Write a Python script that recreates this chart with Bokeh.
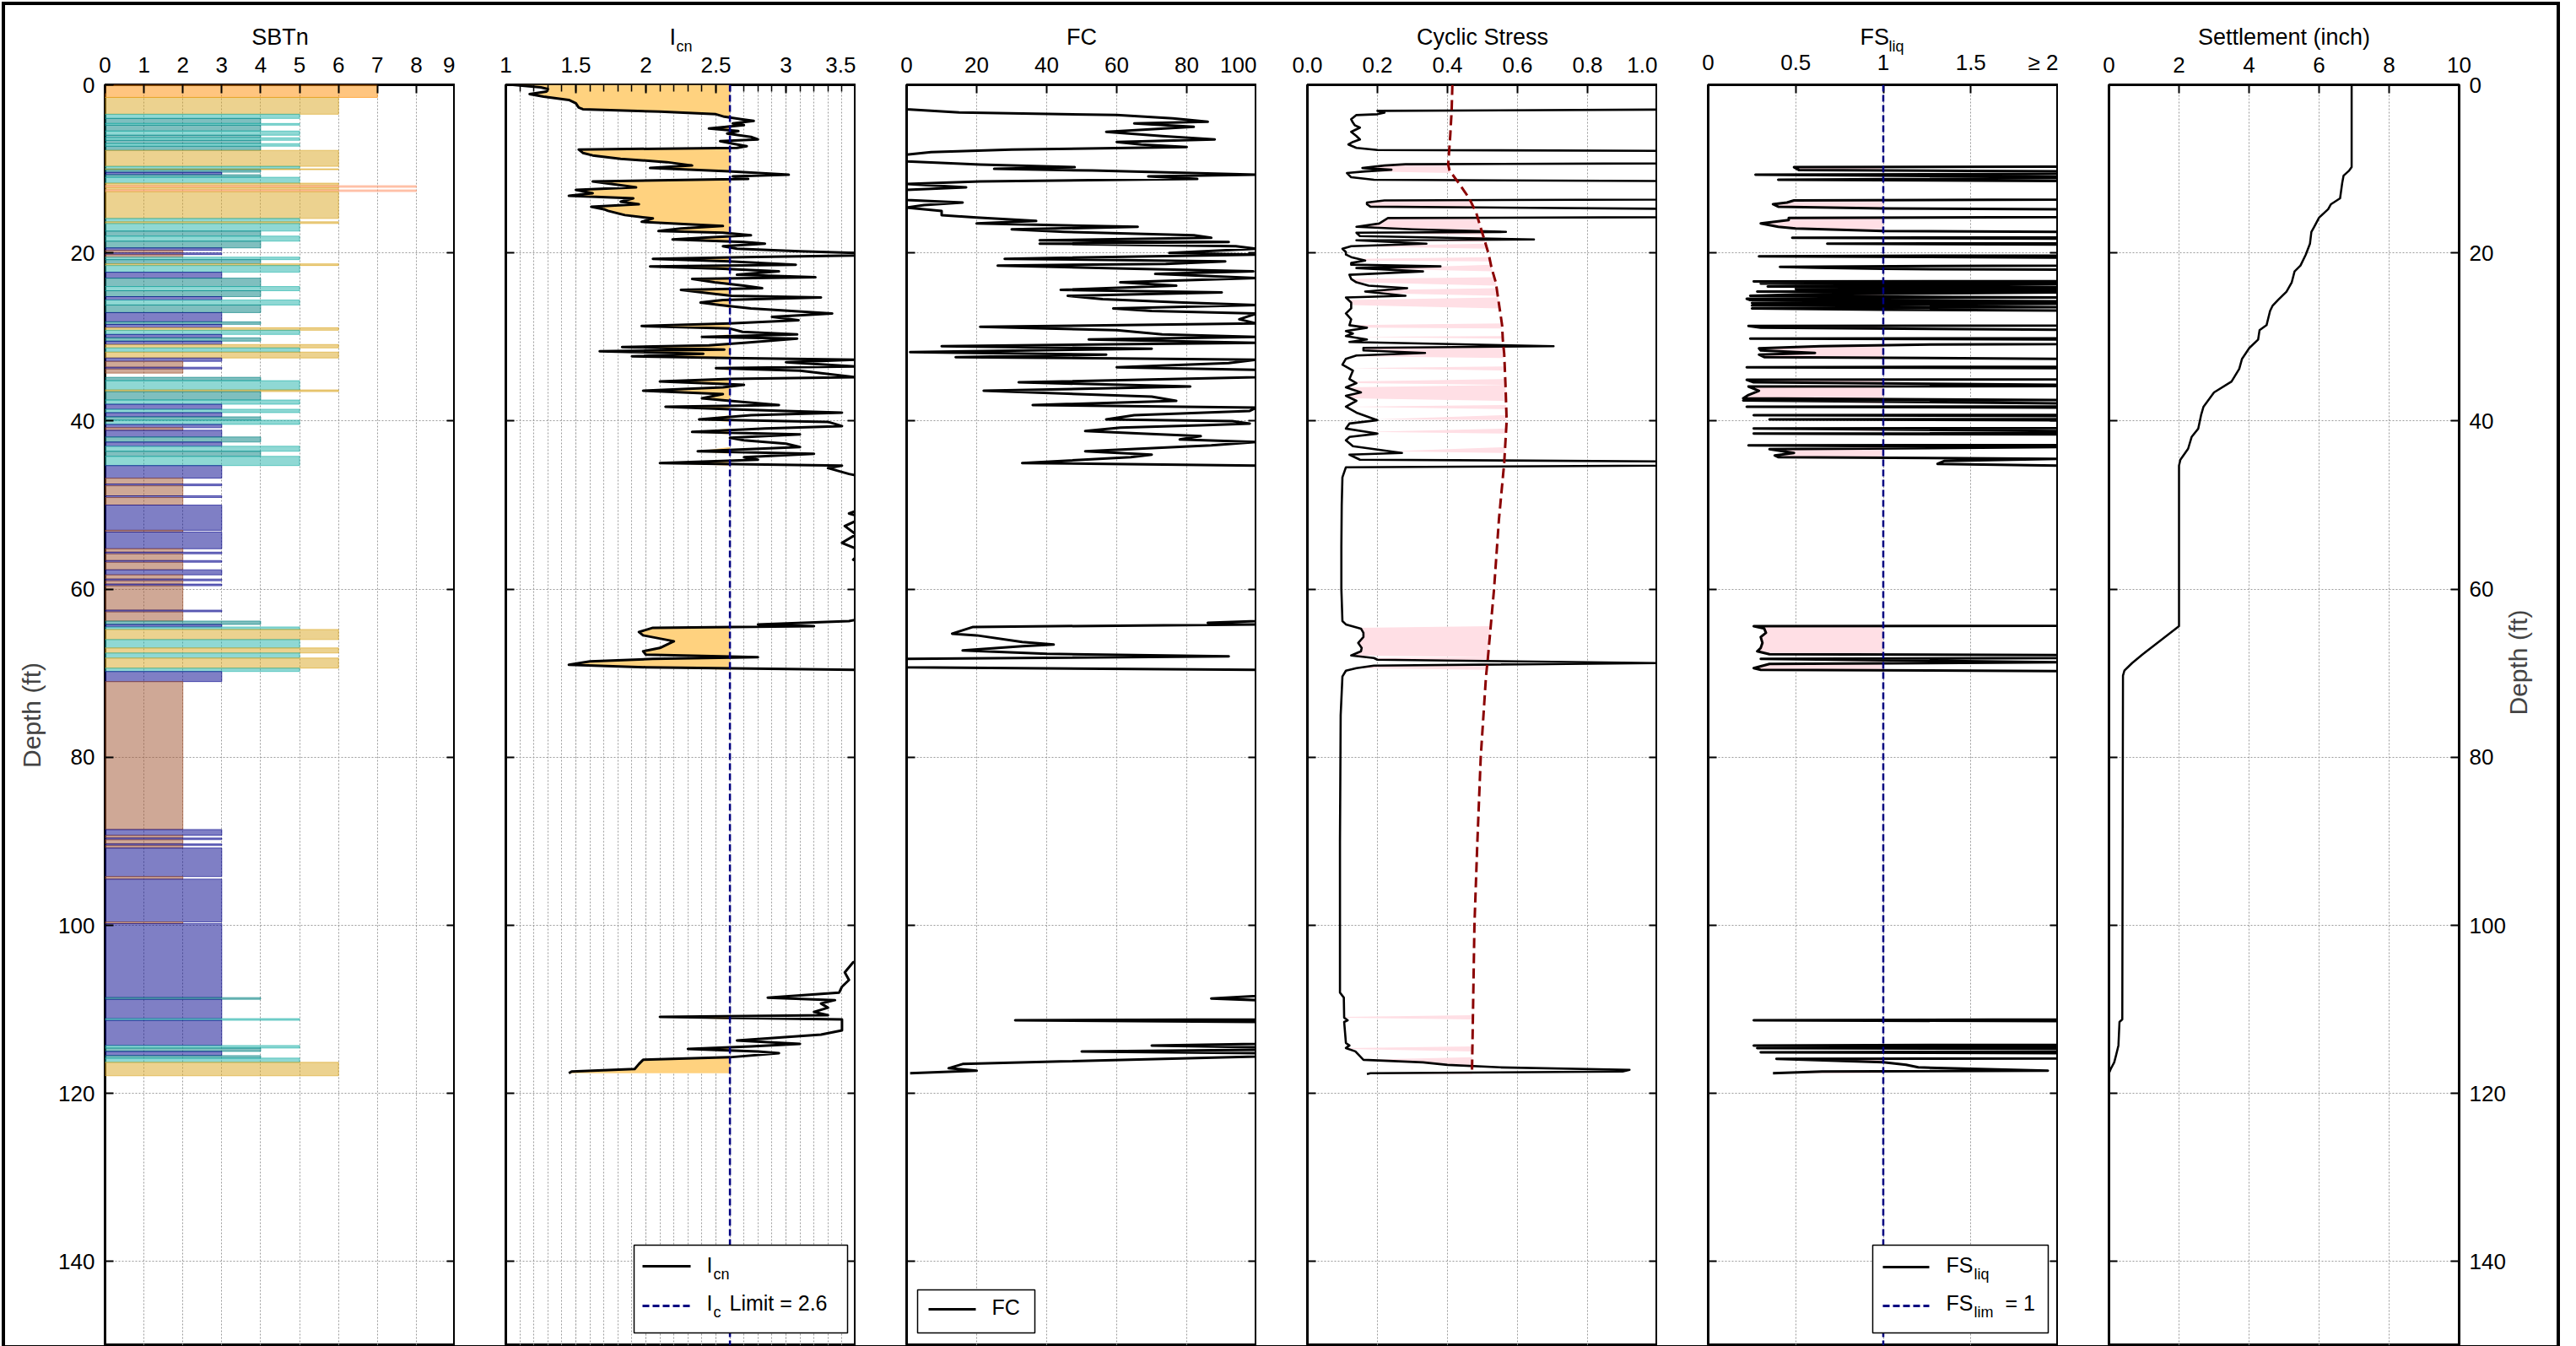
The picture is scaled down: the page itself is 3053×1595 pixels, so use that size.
import math
import numpy as np
from bokeh.plotting import figure
from bokeh.models import (Range1d, FixedTicker, SingleIntervalTicker, LinearAxis,
                          Label, BoxAnnotation, Arrow, Span, Row, Column)
from bokeh.embed import file_html
from bokeh.resources import INLINE

FONT = "Liberation Sans"

# ---------------- data ----------------
depth_ticks = [0, 20, 40, 60, 80, 100, 120, 140]
depth_max = 150
ic_limit = 2.6
fs_limit = 1.0
gwt_depth = 9.5

# SBTn layers: (top ft, bottom ft, zone)
sbt_layers = [
    (0.0, 1.5, 7), (1.5, 3.5, 6), (3.5, 4.0, 5), (4.0, 4.6, 4), (4.6, 4.8, 5), (4.8, 5.5, 4),
    (5.5, 6.0, 5), (6.0, 6.3, 4), (6.3, 6.6, 5), (6.6, 7.0, 4), (7.0, 7.3, 5), (7.3, 7.8, 4),
    (7.8, 9.7, 6), (9.7, 10.0, 5), (10.0, 10.1, 6), (10.1, 10.4, 4), (10.4, 10.7, 3),
    (10.7, 11.0, 4), (11.0, 11.7, 5), (11.7, 12.0, 6), (12.0, 12.2, 8), (12.2, 12.5, 6),
    (12.5, 12.7, 8), (12.7, 15.9, 6), (15.9, 16.3, 5), (16.3, 16.5, 6), (16.5, 17.4, 5),
    (17.4, 18.0, 4), (18.0, 18.6, 5), (18.6, 19.4, 4), (19.4, 19.7, 3), (19.7, 20.0, 2),
    (20.0, 20.2, 3), (20.2, 20.5, 2), (20.5, 20.8, 5), (20.8, 21.3, 4), (21.3, 21.5, 6),
    (21.5, 22.3, 5), (22.3, 23.0, 3), (23.0, 24.0, 4), (24.0, 24.5, 5), (24.5, 25.2, 4),
    (25.2, 25.6, 3), (25.6, 26.2, 5), (26.2, 27.1, 4), (27.1, 28.2, 3), (28.2, 28.5, 4),
    (28.5, 28.9, 3), (28.9, 29.2, 6), (29.2, 29.7, 5), (29.7, 30.1, 3), (30.1, 30.5, 4),
    (30.5, 30.9, 3), (30.9, 31.3, 6), (31.3, 31.8, 5), (31.8, 32.5, 6), (32.5, 32.9, 3),
    (32.9, 33.6, 2), (33.6, 33.8, 3), (33.8, 34.3, 2), (34.8, 35.2, 4), (35.2, 36.3, 5),
    (36.3, 36.5, 6), (36.5, 37.5, 4), (37.5, 38.0, 5), (38.0, 38.6, 3), (38.6, 39.0, 5),
    (39.0, 39.5, 3), (39.5, 39.9, 4), (39.9, 40.4, 5), (40.4, 40.8, 3), (40.8, 41.1, 2),
    (41.1, 41.9, 3), (41.9, 42.5, 4), (42.5, 43.0, 3), (43.0, 43.6, 5), (43.6, 44.2, 4),
    (44.2, 45.3, 5), (45.3, 46.8, 3), (46.8, 47.5, 2), (47.5, 47.7, 3), (47.7, 48.9, 2),
    (48.9, 49.1, 3), (49.1, 50.0, 2), (50.0, 53.0, 3), (53.0, 53.2, 2), (53.2, 55.2, 3),
    (55.2, 55.6, 2), (55.6, 55.8, 3), (55.8, 56.6, 2), (56.6, 56.8, 3), (56.8, 57.7, 2),
    (57.7, 58.3, 3), (58.3, 58.8, 2), (58.8, 59.0, 3), (59.0, 59.4, 2), (59.4, 59.6, 3),
    (59.6, 62.5, 2), (62.5, 62.7, 3), (62.7, 63.8, 2), (63.8, 64.2, 4), (64.2, 64.5, 3),
    (64.5, 64.8, 5), (64.8, 66.0, 6), (66.0, 67.0, 5), (67.0, 67.6, 6), (67.6, 68.2, 5),
    (68.2, 69.4, 6), (69.4, 69.8, 5), (69.8, 71.0, 3), (71.0, 88.6, 2), (88.6, 89.3, 3),
    (89.3, 89.6, 2), (89.6, 89.8, 3), (89.8, 90.3, 2), (90.3, 90.5, 3), (90.5, 90.8, 2),
    (90.8, 94.2, 3), (94.2, 94.5, 2), (94.5, 99.6, 3), (99.6, 99.8, 2), (99.8, 108.6, 3),
    (108.6, 108.8, 4), (108.8, 111.1, 3), (111.1, 111.3, 5), (111.3, 114.3, 3),
    (114.3, 114.6, 5), (114.6, 115.0, 4), (115.0, 115.5, 3), (115.5, 115.8, 4),
    (115.8, 116.3, 5), (116.3, 117.9, 6),
]

# Icn profile: (depth ft, Icn)
icn_profile = [
    (0.0, 1.05), (0.3, 1.25), (0.5, 1.30), (0.8, 1.29), (1.1, 1.17), (1.4, 1.27), (1.8, 1.45),
    (2.2, 1.50), (2.7, 1.52), (2.9, 1.55), (3.2, 2.10), (3.5, 2.50), (3.8, 2.56), (4.1, 2.68),
    (4.3, 2.77), (4.6, 2.62), (4.8, 2.70), (5.2, 2.45), (5.5, 2.66), (5.8, 2.58), (6.2, 2.75),
    (6.5, 2.80), (6.7, 2.53), (7.0, 2.62), (7.3, 2.72), (7.5, 2.65), (7.7, 1.52), (8.1, 1.55),
    (8.4, 1.62), (8.8, 1.82), (9.2, 2.15), (9.6, 2.33), (9.9, 2.03), (10.3, 2.59), (10.7, 3.02),
    (10.9, 2.62), (11.2, 2.73), (11.5, 1.62), (11.9, 1.80), (12.2, 1.93), (12.5, 1.50),
    (12.9, 1.62), (13.2, 1.45), (13.5, 1.91), (13.9, 1.82), (14.2, 1.95), (14.5, 1.61),
    (14.8, 1.70), (15.0, 1.73), (15.5, 1.85), (15.9, 2.05), (16.3, 1.97), (16.6, 2.30),
    (16.8, 2.55), (17.1, 2.25), (17.4, 2.09), (17.6, 2.55), (17.9, 2.75), (18.2, 2.40),
    (18.4, 2.19), (18.7, 2.70), (18.9, 2.85), (19.2, 2.55), (19.5, 2.65), (19.8, 3.10),
    (20.0, 3.50), (20.3, 3.50), (20.5, 2.70), (20.7, 2.05), (21.0, 2.60), (21.4, 3.07),
    (21.6, 2.03), (21.9, 2.55), (22.2, 2.95), (22.6, 2.65), (22.9, 3.21), (23.1, 2.33),
    (23.5, 2.49), (23.9, 2.70), (24.2, 2.83), (24.4, 2.25), (24.8, 2.45), (25.1, 2.61),
    (25.3, 3.25), (25.6, 2.55), (25.9, 2.39), (26.2, 2.53), (26.6, 2.75), (27.2, 3.33),
    (27.6, 2.90), (28.0, 3.09), (28.4, 2.60), (28.7, 1.97), (29.0, 2.60), (29.4, 2.69),
    (29.7, 3.08), (30.0, 2.40), (30.2, 3.08), (30.7, 2.70), (31.0, 2.45), (31.2, 1.83),
    (31.5, 2.56), (31.7, 1.67), (32.0, 2.41), (32.3, 1.90), (32.5, 2.60), (32.7, 3.50),
    (33.0, 3.00), (33.5, 3.50), (33.7, 2.50), (34.0, 3.10), (34.8, 3.50), (35.0, 2.60),
    (35.3, 2.10), (35.7, 2.70), (36.0, 2.55), (36.4, 1.98), (36.8, 2.55), (37.3, 2.40),
    (37.6, 2.60), (38.1, 2.95), (38.3, 2.14), (38.6, 2.60), (39.0, 3.40), (39.3, 2.75),
    (39.8, 2.38), (40.1, 3.30), (40.6, 3.40), (40.9, 2.85), (41.3, 2.33), (41.6, 3.10),
    (42.0, 2.60), (42.3, 2.70), (42.7, 3.00), (43.1, 3.10), (43.6, 2.37), (43.9, 3.20),
    (44.3, 2.70), (44.6, 2.80), (45.0, 2.10), (45.3, 3.40), (45.6, 3.30), (46.3, 3.45),
    (46.8, 3.60), (50.0, 3.62), (51.0, 3.45), (51.5, 3.55), (52.5, 3.42), (53.5, 3.50),
    (54.5, 3.40), (55.5, 3.55), (56.5, 3.48), (57.5, 3.60), (59.0, 3.50), (60.0, 3.60),
    (63.5, 3.55), (63.8, 3.45), (64.2, 2.80), (64.4, 3.20), (64.6, 2.05), (65.1, 1.95),
    (65.5, 1.98), (66.2, 2.20), (66.6, 2.15), (67.0, 2.10), (67.4, 1.98), (67.8, 2.00),
    (68.1, 2.80), (68.3, 2.05), (68.6, 1.60), (69.0, 1.45), (69.3, 2.00), (69.6, 3.50),
    (70.0, 3.60), (104.0, 3.60), (104.4, 3.48), (105.6, 3.42), (106.5, 3.45), (107.3, 3.40),
    (108.0, 3.38), (108.6, 2.87), (108.9, 3.35), (109.3, 3.25), (109.8, 3.30), (110.3, 3.20),
    (110.7, 3.30), (110.9, 2.10), (111.2, 3.40), (112.5, 3.40), (113.0, 3.25), (113.7, 2.65),
    (114.1, 3.10), (114.4, 2.75), (114.7, 2.30), (115.0, 2.80), (115.2, 2.95), (115.7, 2.60),
    (116.0, 1.98), (116.5, 1.95), (117.1, 1.92), (117.4, 1.47), (117.6, 1.45),
]

# Fines content: (depth ft, FC %)
fc_profile = [
    (0.0, 0), (2.9, 0), (3.3, 15), (3.6, 60), (4.0, 76), (4.4, 86), (4.6, 65), (5.0, 82),
    (5.6, 57), (6.1, 73), (6.5, 88), (6.8, 60), (7.1, 67), (7.4, 80), (7.7, 30), (8.0, 7),
    (8.3, 0), (9.1, 0), (9.5, 21), (9.8, 48), (10.0, 25), (10.2, 53), (10.7, 100), (10.9, 69),
    (11.2, 83), (11.5, 21), (11.8, 0), (12.2, 17), (12.5, 0), (13.7, 0), (14.0, 16), (14.3, 5),
    (14.6, 0), (15.0, 10), (15.5, 10), (15.8, 20), (16.2, 37), (16.5, 20), (16.9, 66),
    (17.2, 30), (17.5, 45), (17.9, 82), (18.2, 87), (18.5, 38), (18.7, 92), (18.9, 38),
    (19.2, 94), (19.5, 100), (20.0, 75), (20.2, 100), (20.7, 28), (21.0, 91), (21.3, 74),
    (21.5, 26), (21.9, 65), (22.2, 99), (22.5, 71), (23.0, 100), (23.5, 61), (23.9, 77),
    (24.4, 44), (24.7, 90), (25.1, 46), (25.5, 56), (25.9, 79), (26.2, 100), (26.6, 59),
    (26.9, 70), (27.2, 100), (27.9, 95), (28.4, 100), (28.8, 21), (29.2, 60), (29.7, 73),
    (30.0, 100), (30.3, 52), (30.7, 100), (31.1, 10), (31.4, 70), (31.8, 1), (32.1, 57),
    (32.4, 14), (32.7, 100), (33.1, 92), (33.6, 60), (33.9, 100), (34.8, 100), (35.4, 32),
    (35.9, 81), (36.4, 22), (37.1, 70), (37.6, 77), (38.1, 36), (38.4, 100), (38.8, 98),
    (39.3, 65), (39.8, 57), (40.0, 93), (40.3, 98), (40.5, 84), (40.8, 61), (41.2, 51),
    (41.5, 67), (41.8, 84), (42.2, 78), (42.5, 100), (42.9, 87), (43.6, 51), (44.0, 70),
    (44.3, 64), (45.0, 33), (45.3, 100), (63.8, 100), (64.0, 86), (64.2, 100), (64.5, 19),
    (65.3, 13), (65.5, 20), (66.3, 33), (66.6, 42), (66.8, 33), (67.3, 16), (67.7, 40),
    (68.0, 92), (68.3, 0), (69.3, 0), (69.6, 100), (108.4, 100), (108.7, 87), (108.9, 100),
    (111.2, 100), (111.3, 31), (111.5, 100), (114.1, 100), (114.3, 70), (114.5, 100),
    (114.8, 100), (115.0, 50), (115.2, 100), (115.6, 100), (116.2, 44), (116.5, 16),
    (117.0, 12), (117.3, 20), (117.6, 1),
]

# Cyclic resistance ratio: (depth ft, CRR), capped at 1.0
crr_profile = [
    (2.95, 1.0), (3.1, 0.20), (3.3, 0.22), (3.5, 0.20), (3.6, 0.14), (4.1, 0.125), (4.5, 0.13),
    (4.8, 0.135), (5.1, 0.15), (5.6, 0.125), (6.1, 0.14), (6.5, 0.15), (6.8, 0.13),
    (7.1, 0.117), (7.5, 0.14), (7.75, 0.20), (7.85, 1.0), (9.35, 1.0), (9.45, 0.28),
    (9.6, 0.22), (9.9, 0.157), (10.1, 0.24), (10.3, 0.165), (10.5, 0.113), (11.0, 0.125),
    (11.3, 0.19), (11.45, 1.0), (13.65, 1.0), (13.75, 0.22), (14.0, 0.17), (14.2, 0.17),
    (14.5, 0.18), (14.75, 1.0), (15.75, 1.0), (15.85, 0.23), (16.5, 0.205), (16.9, 0.14),
    (17.2, 0.30), (17.5, 0.567), (17.6, 0.14), (18.0, 0.15), (18.4, 0.647), (18.5, 0.14),
    (18.9, 0.34), (19.2, 0.125), (19.5, 0.10), (19.9, 0.11), (20.2, 0.11), (20.5, 0.125),
    (20.9, 0.165), (21.2, 0.125), (21.4, 0.125), (21.6, 0.38), (21.8, 0.14), (22.2, 0.33),
    (22.6, 0.12), (23.1, 0.125), (23.5, 0.14), (23.9, 0.175), (24.2, 0.285), (24.6, 0.165),
    (25.1, 0.28), (25.3, 0.11), (25.9, 0.125), (26.6, 0.125), (27.2, 0.11), (27.9, 0.125),
    (28.6, 0.12), (28.9, 0.17), (29.3, 0.11), (29.6, 0.13), (29.9, 0.11), (30.3, 0.17),
    (30.6, 0.12), (31.1, 0.703), (31.3, 0.16), (31.6, 0.16), (31.9, 0.336), (32.2, 0.14),
    (32.6, 0.11), (33.3, 0.10), (34.0, 0.13), (35.0, 0.12), (35.5, 0.14), (36.0, 0.11),
    (36.6, 0.153), (37.0, 0.11), (37.6, 0.14), (38.3, 0.11), (39.0, 0.14), (39.9, 0.20),
    (40.3, 0.12), (40.9, 0.11), (41.5, 0.20), (41.9, 0.12), (42.3, 0.11), (43.0, 0.13),
    (43.8, 0.27), (44.0, 0.12), (44.6, 0.15), (44.8, 1.0), (45.3, 1.0), (45.5, 0.11),
    (46.7, 0.10), (50.0, 0.098), (55.0, 0.097), (60.0, 0.097), (63.8, 0.10), (64.2, 0.11),
    (64.7, 0.153), (65.2, 0.16), (65.7, 0.16), (66.4, 0.145), (67.0, 0.155), (67.4, 0.153),
    (67.9, 0.125), (68.2, 0.19), (68.4, 0.20), (68.8, 1.0), (69.1, 0.19), (69.4, 0.14),
    (69.7, 0.11), (70.4, 0.10), (75.0, 0.095), (90.0, 0.093), (100.0, 0.093), (108.0, 0.093),
    (108.6, 0.104), (111.0, 0.105), (111.3, 0.115), (111.5, 0.105), (114.0, 0.11),
    (114.3, 0.12), (114.6, 0.11), (115.0, 0.137), (116.0, 0.16), (116.3, 0.33), (116.6, 0.40),
    (116.9, 0.55), (117.2, 0.92), (117.4, 0.90), (117.6, 0.18), (117.7, 0.17),
]

# Cyclic stress ratio: (depth ft, CSR)
csr_profile = [
    (0.0, 0.414), (3.0, 0.412), (6.0, 0.408), (9.5, 0.402), (10.2, 0.406), (11.8, 0.434),
    (13.5, 0.462), (15.2, 0.482), (16.9, 0.494), (18.5, 0.506), (20.2, 0.518), (21.8, 0.526),
    (23.5, 0.538), (25.2, 0.544), (26.9, 0.550), (28.6, 0.556), (30.3, 0.558), (32.0, 0.562),
    (36.0, 0.566), (40.0, 0.569), (45.0, 0.562), (51.7, 0.547), (60.0, 0.533), (68.4, 0.515),
    (70.4, 0.510), (80.0, 0.495), (90.5, 0.485), (100.0, 0.477), (117.6, 0.470),
]

# Factor of safety against liquefaction: (depth ft, FS), capped at 2
fs_profile = [
    (9.75, 2.0), (9.8, 0.49), (10.15, 0.52), (10.3, 2.0), (10.6, 2.0), (10.7, 0.27),
    (10.95, 2.0), (11.1, 2.0), (11.3, 0.40), (11.45, 2.0), (13.65, 2.0), (13.75, 0.49),
    (14.0, 0.45), (14.2, 0.37), (14.5, 0.40), (14.7, 1.0), (14.8, 2.0), (15.75, 2.0),
    (15.85, 0.46), (16.1, 0.46), (16.5, 0.30), (16.9, 0.40), (17.1, 0.50), (17.4, 1.0),
    (17.5, 2.0), (18.15, 2.0), (18.2, 0.48), (18.3, 2.0), (18.85, 2.0), (18.9, 0.68),
    (19.0, 2.0), (20.3, 2.0), (20.4, 0.29), (20.55, 2.0), (21.5, 2.0), (21.65, 0.41),
    (21.75, 0.62), (21.9, 1.0), (22.0, 2.0), (23.35, 2.0), (23.4, 0.26), (23.5, 2.0),
    (23.65, 0.30), (23.75, 2.0), (24.0, 0.34), (24.1, 2.0), (24.3, 0.50), (24.4, 2.0),
    (24.6, 0.28), (24.7, 2.0), (24.95, 0.50), (25.1, 0.24), (25.3, 2.0), (25.45, 0.22),
    (25.6, 0.24), (25.75, 2.0), (25.95, 0.25), (26.05, 2.0), (26.25, 0.25), (26.45, 2.0),
    (26.6, 0.25), (26.75, 1.0), (26.85, 2.0), (28.65, 2.0), (28.7, 0.23), (28.9, 0.30),
    (29.15, 2.0), (30.15, 2.0), (30.2, 0.24), (30.3, 2.0), (30.85, 2.0), (30.9, 1.27),
    (31.1, 0.64), (31.35, 0.29), (31.6, 0.30), (31.9, 0.61), (32.1, 0.29), (32.4, 0.32),
    (32.6, 2.0), (33.55, 2.0), (33.6, 0.22), (33.7, 2.0), (35.05, 2.0), (35.1, 0.22),
    (35.4, 0.26), (35.7, 2.0), (35.85, 2.0), (35.9, 0.23), (36.4, 0.29), (36.9, 0.23),
    (37.3, 0.20), (37.5, 2.0), (37.55, 0.20), (37.9, 2.0), (38.25, 2.0), (38.3, 0.22),
    (38.4, 2.0), (39.25, 2.0), (39.3, 0.26), (39.4, 2.0), (39.75, 2.0), (39.8, 0.35),
    (39.9, 2.0), (40.85, 2.0), (40.9, 0.26), (41.2, 2.0), (41.45, 2.0), (41.5, 0.26),
    (41.6, 2.0), (42.85, 2.0), (42.9, 0.23), (43.1, 2.0), (43.35, 0.35), (43.8, 0.49),
    (44.1, 0.38), (44.3, 0.40), (44.5, 2.0), (44.75, 1.35), (45.1, 1.31), (45.3, 2.0),
    (64.35, 2.0), (64.4, 0.26), (64.7, 0.32), (65.2, 0.33), (65.7, 0.30), (66.4, 0.31),
    (67.0, 0.30), (67.4, 0.28), (67.75, 0.35), (67.85, 2.0), (68.2, 2.0), (68.3, 0.30),
    (68.7, 2.0), (68.9, 0.35), (69.4, 0.26), (69.6, 0.30), (69.75, 2.0), (111.2, 2.0),
    (111.3, 0.26), (111.4, 2.0), (114.2, 2.0), (114.3, 0.26), (114.4, 2.0), (114.55, 2.0),
    (114.6, 0.28), (114.7, 2.0), (115.05, 2.0), (115.1, 0.30), (115.2, 2.0), (115.85, 2.0),
    (115.9, 0.39), (116.3, 1.0), (116.6, 1.13), (116.9, 1.20), (117.3, 1.94), (117.4, 0.65),
    (117.6, 0.37),
]

# Cumulative settlement: (depth ft, inch)
settle_profile = [
    (0.0, 6.93), (9.8, 6.93), (10.2, 6.86), (10.8, 6.70), (11.7, 6.66), (13.5, 6.60),
    (14.2, 6.34), (14.8, 6.26), (15.8, 6.00), (16.9, 5.86), (17.5, 5.78), (18.9, 5.74),
    (20.2, 5.62), (21.5, 5.47), (22.2, 5.30), (23.5, 5.22), (24.6, 5.07), (25.6, 4.83),
    (26.3, 4.67), (26.9, 4.60), (28.6, 4.50), (29.2, 4.30), (30.3, 4.26), (31.3, 4.01),
    (32.6, 3.80), (33.8, 3.72), (35.3, 3.50), (36.6, 3.00), (38.3, 2.70), (39.3, 2.63),
    (40.9, 2.55), (41.9, 2.36), (43.3, 2.26), (44.6, 2.04), (45.3, 2.00), (64.4, 2.00),
    (67.8, 0.95), (68.8, 0.66), (69.7, 0.44), (70.3, 0.40), (111.2, 0.38), (111.5, 0.30),
    (114.3, 0.27), (115.5, 0.20), (116.3, 0.15), (117.0, 0.06), (117.6, 0.0),
]

zone_colors = {2: "#A0522D", 3: "#00008B", 4: "#008080", 5: "#20B2AA",
               6: "#DAA520", 7: "#FF8C00", 8: "#FFA07A"}

# ---------------- helpers ----------------
def unzip(pairs):
    a = np.array(pairs, dtype=float)
    return a[:, 0], a[:, 1]

icn_d, icn_v = unzip(icn_profile)
fc_d, fc_v = unzip(fc_profile)
crr_d, crr_v = unzip(crr_profile)
csr_d, csr_v = unzip(csr_profile)
fs_d, fs_v = unzip(fs_profile)
st_d, st_v = unzip(settle_profile)

FW, FH = 415, 1494
GAP = 60
TICK_FS = 26
TITLE_FS = 27
LEG_FS = 25
SUB_FS = 18
TITLE_H = 70      # strip carrying the panel titles
OVERLAP = 28      # panels slide up under the title strip by this much
PANEL_TOP = 52    # border above each panel frame (tick labels live here)
BLACK = "black"
NAVY = "#000080"


def style_axis(ax, labels, minor=False):
    ax.axis_line_color = None
    ax.major_tick_in = 10
    ax.major_tick_out = 0
    ax.major_tick_line_color = "black"
    ax.major_tick_line_width = 2
    if minor:
        ax.minor_tick_in = 8
        ax.minor_tick_out = 0
        ax.minor_tick_line_color = "black"
        ax.minor_tick_line_width = 1.5
    else:
        ax.minor_tick_line_color = None
    ax.major_label_text_font = FONT
    if labels:
        ax.major_label_text_color = "black"
        ax.major_label_text_font_size = f"{TICK_FS}px"
        ax.major_label_standoff = 12
    else:
        ax.major_label_text_color = None
        ax.major_label_text_font_size = "0px"
        ax.major_label_standoff = 0


def make_panel(xr, ticker, overrides=None, left_border=GAP, right_border=0,
               left_labels=False, right_labels=False, minor=False, top_standoff=15):
    p = figure(frame_width=FW, frame_height=FH, x_range=Range1d(*xr),
               y_range=Range1d(depth_max, 0), x_axis_location="above",
               output_backend="svg", toolbar_location=None,
               min_border_left=left_border, min_border_right=right_border,
               min_border_top=PANEL_TOP, min_border_bottom=0)
    p.outline_line_color = "black"
    p.outline_line_width = 3
    p.outline_line_alpha = 1
    p.background_fill_color = "white"
    p.border_fill_color = None
    xa = p.xaxis[0]
    xa.ticker = ticker
    if overrides:
        xa.major_label_overrides = overrides
    style_axis(xa, True, minor)
    xa.major_label_standoff = top_standoff
    ya = p.yaxis[0]
    ya.ticker = FixedTicker(ticks=depth_ticks)
    style_axis(ya, left_labels)
    ra = LinearAxis(ticker=FixedTicker(ticks=depth_ticks))
    style_axis(ra, right_labels)
    p.add_layout(ra, "right")
    for g in (p.xgrid[0], p.ygrid[0]):
        g.grid_line_color = "#9c9c9c"
        g.grid_line_dash = "2 2"
        g.grid_line_width = 1
    if minor:
        p.xgrid[0].minor_grid_line_color = "#9c9c9c"
        p.xgrid[0].minor_grid_line_dash = "2 2"
        p.xgrid[0].minor_grid_line_width = 1
    return p, ya, ra


def make_title(left_border=GAP, right_border=0):
    t = figure(frame_width=FW, frame_height=TITLE_H, x_range=Range1d(0, 1),
               y_range=Range1d(0, 1), x_axis_location=None, y_axis_location=None,
               output_backend="svg", toolbar_location=None,
               min_border_left=left_border, min_border_right=right_border,
               min_border_top=0, min_border_bottom=0)
    t.outline_line_color = None
    t.xgrid.visible = False
    t.ygrid.visible = False
    t.background_fill_color = "white"
    t.border_fill_color = "white"
    return t


def text(p, x, base, s, size=LEG_FS, align="left"):
    # base = wanted baseline height (px above the frame bottom)
    p.add_layout(Label(x=x, y=base + 0.38 * size, x_units="screen", y_units="screen",
                       text=s, text_font=FONT, text_font_size=f"{size}px",
                       text_align=align, text_baseline="alphabetic", text_color="black"))


def box(p, left, right, bottom, top):
    p.add_layout(BoxAnnotation(left=left, right=right, bottom=bottom, top=top,
                               left_units="screen", right_units="screen",
                               bottom_units="screen", top_units="screen",
                               fill_color="white", fill_alpha=1.0,
                               line_color="black", line_width=1.5, line_alpha=1.0))


def seg(p, x0, x1, y, color, dash="solid", width=3):
    p.add_layout(Arrow(start=None, end=None, x_start=x0, x_end=x1, y_start=y, y_end=y,
                       start_units="screen", end_units="screen",
                       line_color=color, line_width=width, line_dash=dash))


TB = 22          # title baseline above the bottom of the title strip
SB = TB - 7      # subscript baseline

# ---------------- panel 1: SBTn ----------------
p1, ya1, _ = make_panel((0, 9), FixedTicker(ticks=list(range(10))),
                        left_border=118, left_labels=True)
ya1.axis_label = "Depth (ft)"
ya1.axis_label_text_font = FONT
ya1.axis_label_text_font_size = "30px"
ya1.axis_label_text_font_style = "normal"
ya1.axis_label_standoff = 12
tops = np.array([l[0] for l in sbt_layers])
bots = np.array([l[1] for l in sbt_layers])
zones = [l[2] for l in sbt_layers]
cols = [zone_colors[z] for z in zones]
p1.hbar(y=(tops + bots) / 2, height=bots - tops, left=0, right=zones,
        fill_color=cols, fill_alpha=0.5, line_color=cols, line_alpha=0.6, line_width=1)
t1 = make_title(left_border=118)
text(t1, FW / 2, TB, "SBTn", size=TITLE_FS, align="center")

# ---------------- panel 2: Icn ----------------
icn_over = {1: "1", 1.5: "1.5", 2: "2", 2.5: "2.5", 3: "3", 3.5: "3.5"}
p2, _, _ = make_panel((1, 3.5), SingleIntervalTicker(interval=0.5, num_minor_ticks=5),
                      overrides=icn_over, minor=True)
p2.harea(y=icn_d, x1=np.minimum(icn_v, ic_limit), x2=ic_limit, fill_color="#FFD27F",
         fill_alpha=1.0)
p2.line(icn_v, icn_d, line_color=BLACK, line_width=3, line_join="round")
p2.add_layout(Span(location=ic_limit, dimension="height", line_color=NAVY,
                   line_dash="8 4", line_width=2.5))
box(p2, 152, 405, 15, 119)
seg(p2, 162, 219, 94, BLACK)
text(p2, 238, 86, "I")
text(p2, 246, 78, "cn", size=SUB_FS)
seg(p2, 162, 219, 47, NAVY, dash="8 4")
text(p2, 238, 41, "I")
text(p2, 246, 33, "c", size=SUB_FS)
text(p2, 265, 41, "Limit = 2.6")
t2 = make_title()
text(t2, 194, TB, "I", size=TITLE_FS)
text(t2, 202, SB, "cn", size=SUB_FS)

# ---------------- panel 3: FC ----------------
p3, _, _ = make_panel((0, 100), FixedTicker(ticks=[0, 20, 40, 60, 80, 100]))
p3.line(fc_v, fc_d, line_color=BLACK, line_width=3, line_join="round")
box(p3, 13, 152, 15, 66)
seg(p3, 26, 82, 43, BLACK)
text(p3, 101, 36, "FC")
t3 = make_title()
text(t3, FW / 2, TB, "FC", size=TITLE_FS, align="center")

# ---------------- panel 4: Cyclic Stress ----------------
cs_over = {0: "0.0", 0.2: "0.2", 0.4: "0.4", 0.6: "0.6", 0.8: "0.8", 1: "1.0"}
p4, _, _ = make_panel((0, 1.0), FixedTicker(ticks=[0, 0.2, 0.4, 0.6, 0.8, 1.0]),
                      overrides=cs_over)
yy = np.union1d(crr_d, icn_d)
yy = yy[(yy >= crr_d[0]) & (yy <= crr_d[-1])]
crr_i = np.interp(yy, crr_d, crr_v)
csr_i = np.interp(yy, csr_d, csr_v)
icn_i = np.interp(yy, icn_d, icn_v)
mask = (yy > gwt_depth) & (icn_i < ic_limit) & (crr_i < csr_i)
p4.harea(y=yy, x1=np.where(mask, crr_i, csr_i), x2=csr_i, fill_color="#FFDFE5",
         fill_alpha=1.0)
p4.line(crr_v, crr_d, line_color=BLACK, line_width=2.6, line_join="round")
p4.line(csr_v, csr_d, line_color="#8B0000", line_width=3, line_dash="12 6")
t4 = make_title()
text(t4, FW / 2, TB, "Cyclic Stress", size=TITLE_FS, align="center")

# ---------------- panel 5: FS ----------------
fs_over = {0: "0", 0.5: "0.5", 1: "1", 1.5: "1.5", 2: "≥ 2"}
p5, _, _ = make_panel((0, 2), FixedTicker(ticks=[0, 0.5, 1, 1.5, 2]), overrides=fs_over,
                      top_standoff=12)
p5.harea(y=fs_d, x1=np.minimum(fs_v, fs_limit), x2=fs_limit, fill_color="#FFDFE5",
         fill_alpha=1.0)
p5.line(fs_v, fs_d, line_color=BLACK, line_width=3, line_join="round")
p5.add_layout(Span(location=fs_limit, dimension="height", line_color=NAVY,
                   line_dash="8 4", line_width=2.5))
box(p5, 195, 403, 15, 119)
seg(p5, 207, 262, 93, BLACK)
text(p5, 282, 86, "FS")
text(p5, 315, 78, "liq", size=SUB_FS)
seg(p5, 207, 262, 47, NAVY, dash="8 4")
text(p5, 282, 41, "FS")
text(p5, 315, 33, "lim", size=SUB_FS)
text(p5, 352, 41, "= 1")
t5 = make_title()
text(t5, 180, TB, "FS", size=TITLE_FS)
text(t5, 214, SB, "liq", size=SUB_FS)

# ---------------- panel 6: Settlement ----------------
p6, _, ra6 = make_panel((0, 10), FixedTicker(ticks=[0, 2, 4, 6, 8, 10]),
                        right_border=116, right_labels=True)
ra6.axis_label = "Depth (ft)"
ra6.axis_label_text_font = FONT
ra6.axis_label_text_font_size = "30px"
ra6.axis_label_text_font_style = "normal"
ra6.axis_label_standoff = 12
ra6.axis_label_orientation = math.pi / 2
p6.line(st_v, st_d, line_color=BLACK, line_width=2.5, line_join="round")
t6 = make_title(right_border=116)
text(t6, FW / 2, TB, "Settlement (inch)", size=TITLE_FS, align="center")

titles = Row(children=[t1, t2, t3, t4, t5, t6], spacing=0)
panels = Row(children=[p1, p2, p3, p4, p5, p6], spacing=0,
             styles={"margin-top": f"-{OVERLAP}px", "position": "relative"})
layout = Column(children=[titles, panels], spacing=0,
                styles={"margin-left": "6px", "margin-top": "6px",
                        "outline": "4px solid black", "outline-offset": "0px",
                        "background-color": "white"})

open("out.html", "w").write(file_html(layout, INLINE))
